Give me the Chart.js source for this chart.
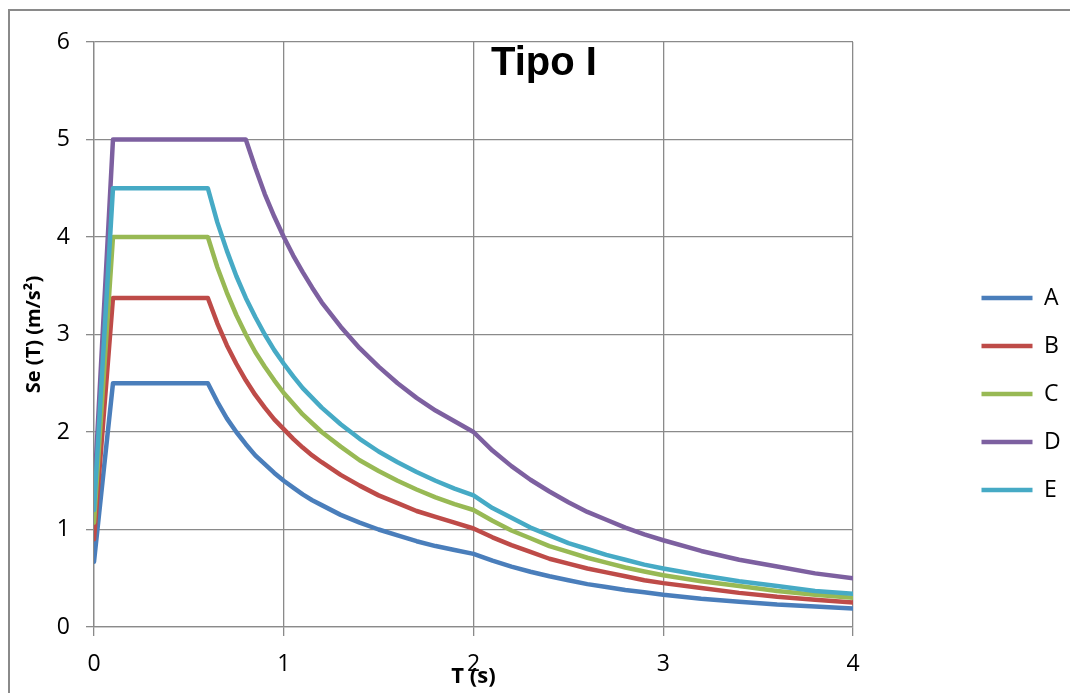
<!DOCTYPE html>
<html><head><meta charset="utf-8">
<script src="https://cdn.jsdelivr.net/npm/chart.js@4.4.0/dist/chart.umd.min.js"></script>
<style>
html,body{margin:0;padding:0;background:#fff;}
#wrap{position:relative;width:1070px;height:693px;overflow:hidden;background:#fff;}
#frame{position:absolute;left:7.5px;top:9px;width:1100px;height:720px;border-left:2px solid #8a8a8a;border-top:2px solid #8a8a8a;box-sizing:border-box;}
canvas{position:absolute;left:0;top:0;}
</style></head><body>
<div id="wrap"><div id="frame"></div><canvas id="c" width="1070" height="693"></canvas></div>
<script>
// Period T (s)
const periods = [0, 0.1, 0.6, 0.65, 0.7, 0.75, 0.8, 0.85, 0.9, 0.95, 1.0, 1.05, 1.1, 1.15, 1.2, 1.3, 1.4, 1.5, 1.6, 1.7, 1.8, 1.9, 2.0, 2.1, 2.2, 2.3, 2.4, 2.5, 2.6, 2.7, 2.8, 2.9, 3.0, 3.2, 3.4, 3.6, 3.8, 4.0];
// Se(T) (m/s²) per ground type
const seA = [0.67, 2.5, 2.5, 2.31, 2.14, 2.0, 1.875, 1.76, 1.67, 1.58, 1.5, 1.43, 1.36, 1.30, 1.25, 1.15, 1.07, 1.0, 0.94, 0.88, 0.83, 0.79, 0.75, 0.68, 0.62, 0.567, 0.52, 0.48, 0.44, 0.41, 0.38, 0.357, 0.33, 0.29, 0.26, 0.23, 0.21, 0.19];
const seB = [0.9, 3.375, 3.375, 3.115, 2.89, 2.7, 2.53, 2.38, 2.25, 2.13, 2.03, 1.93, 1.84, 1.76, 1.69, 1.56, 1.45, 1.35, 1.27, 1.19, 1.13, 1.07, 1.01, 0.92, 0.84, 0.77, 0.70, 0.65, 0.60, 0.56, 0.52, 0.48, 0.45, 0.40, 0.35, 0.31, 0.28, 0.25];
const seC = [1.07, 4.0, 4.0, 3.69, 3.43, 3.2, 3.0, 2.82, 2.67, 2.53, 2.4, 2.29, 2.18, 2.09, 2.0, 1.85, 1.71, 1.6, 1.5, 1.41, 1.33, 1.26, 1.2, 1.09, 0.99, 0.91, 0.83, 0.77, 0.71, 0.66, 0.61, 0.57, 0.53, 0.47, 0.42, 0.37, 0.33, 0.30];
const seD = [1.33, 5.0, 5.0, 5.0, 5.0, 5.0, 5.0, 4.71, 4.44, 4.21, 4.0, 3.81, 3.64, 3.48, 3.33, 3.08, 2.86, 2.67, 2.5, 2.35, 2.22, 2.11, 2.0, 1.81, 1.65, 1.51, 1.39, 1.28, 1.18, 1.10, 1.02, 0.95, 0.89, 0.78, 0.69, 0.62, 0.55, 0.50];
const seE = [1.2, 4.5, 4.5, 4.15, 3.86, 3.6, 3.375, 3.18, 3.0, 2.84, 2.7, 2.57, 2.45, 2.35, 2.25, 2.08, 1.93, 1.8, 1.69, 1.59, 1.5, 1.42, 1.35, 1.22, 1.12, 1.02, 0.94, 0.86, 0.80, 0.74, 0.69, 0.64, 0.60, 0.53, 0.47, 0.42, 0.37, 0.34];

const seriesNames = ['A', 'B', 'C', 'D', 'E'];
const seriesValues = [seA, seB, seC, seD, seE];
const seriesColors = ['#4a7ebb', '#be4b48', '#98b954', '#7d60a0', '#46aac5'];
const xTicks = [0, 1, 2, 3, 4];
const yTicks = [0, 1, 2, 3, 4, 5, 6];
const chartTitle = 'Tipo I';
const xTitle = 'T (s)';
const yTitle = 'Se (T) (m/s²)';

const gridColor = '#8a8a8a';
const datasets = seriesNames.map((name, i) => ({
  label: name,
  data: periods.map((t, j) => ({x: t, y: seriesValues[i][j]})),
  borderColor: seriesColors[i],
  backgroundColor: seriesColors[i],
  borderWidth: 4.5,
  borderCapStyle: 'round',
  borderJoinStyle: 'round',
  pointRadius: 0,
  pointHoverRadius: 0,
  tension: 0,
  order: seriesNames.length - i
}));

const titlePlugin = {
  id: 'titleText',
  afterDraw(chart) {
    const ctx = chart.ctx;
    ctx.save();
    ctx.font = 'bold 40px "Liberation Sans"';
    ctx.fillStyle = '#000';
    ctx.textBaseline = 'alphabetic';
    ctx.textAlign = 'left';
    ctx.fillText(chartTitle, 491, 75);
    ctx.restore();
  }
};

const legendPlace = {
  id: 'legendPlace',
  afterLayout(chart) {
    const l = chart.legend;
    if (!l) return;
    const w = l.width, h = l.height;
    l.left = 956.5; l.right = l.left + w;
    l.top = 261.5; l.bottom = l.top + h;
  }
};

new Chart(document.getElementById('c'), {
  type: 'line',
  data: { datasets },
  plugins: [legendPlace, titlePlugin],
  options: {
    responsive: false,
    animation: false,
    devicePixelRatio: 1,
    layout: { padding: { left: 0, top: 42, right: 217, bottom: 0 } },
    plugins: {
      title: { display: false },
      tooltip: { enabled: false },
      legend: {
        display: true,
        position: 'chartArea',
        align: 'start',
        labels: {
          usePointStyle: true,
          pointStyle: 'line',
          pointStyleWidth: 51,
          boxHeight: 23,
          padding: 25,
          color: '#000',
          font: { family: '"Open Sans"', size: 23 },
          sort: (a, b) => a.datasetIndex - b.datasetIndex
        }
      }
    },
    scales: {
      x: {
        type: 'linear',
        min: 0, max: 4,
        afterBuildTicks: (s) => { s.ticks = xTicks.map(v => ({value: v})); },
        afterFit: (s) => { s.height = 66; },
        grid: { color: gridColor, lineWidth: 1.3, tickLength: 9, drawTicks: true },
        border: { color: gridColor, width: 1.3 },
        ticks: { color: '#000', padding: 15, font: { family: '"Open Sans"', size: 23 } },
        title: { display: true, text: xTitle, color: '#000', padding: { top: 0, bottom: 3 }, font: { family: '"Open Sans"', size: 22, weight: 'bold' } }
      },
      y: {
        type: 'linear',
        min: 0, max: 6,
        afterBuildTicks: (s) => { s.ticks = yTicks.map(v => ({value: v})); },
        afterFit: (s) => { s.width = 94; },
        grid: { color: gridColor, lineWidth: 1.3, tickLength: 8, drawTicks: true },
        border: { color: gridColor, width: 1.3 },
        ticks: { color: '#000', padding: 16, font: { family: '"Open Sans"', size: 23 } },
        title: { display: true, text: yTitle, color: '#000', padding: { top: 22, bottom: 0 }, font: { family: '"Open Sans"', size: 20, weight: 'bold' } }
      }
    }
  }
});
</script>
</body></html>
